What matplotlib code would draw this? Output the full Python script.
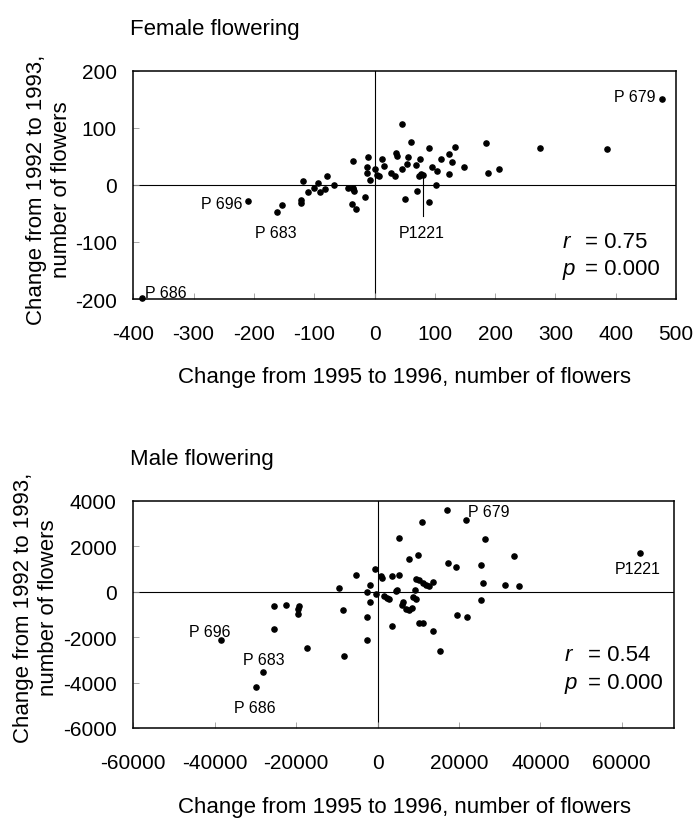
import numpy as np
import matplotlib
matplotlib.use("Agg")
import matplotlib.pyplot as plt

plt.rcParams['font.family'] = ['Liberation Sans', 'DejaVu Sans']
plt.rcParams['axes.unicode_minus'] = False

# Female flowering: change 1995->1996 (x) vs change 1992->1993 (y)
fem_x = [-385, -210, -162, -154, -119, -122, -122, -111, -101, -93, -91, -82, -79, -67,
         -44, -35, -34, -36, -35, -38, -30, -15, -10, -13, -13, -7, 1, 4, 7, 12, 16,
         27, 34, 36, 38, 45, 50, 45, 54, 55, 60, 70, 69, 76, 73, 77, 81, 90, 91, 95,
         102, 103, 110, 123, 124, 128, 133, 149, 185, 188, 207, 275, 386, 477]
fem_y = [-199, -28, -48, -36, 6, -26, -32, -12, -6, 3, -13, -8, 15, -1,
         -6, -5, -10, -8, 42, -34, -42, -22, 48, 31, 20, 9, 27, 18, 15, 45, 33,
         20, 16, 55, 50, 107, -25, 27, 36, 48, 75, -10, 35, 45, 16, 19, 18, 64, -30, 32,
         0, 25, 45, 19, 54, 40, 67, 32, 74, 20, 28, 65, 62, 150]

# Male flowering
male_x = [-38380, -28070, -29860, -25540, -25380, -22520, -19330, -19500, -19650, -17260,
          -9490, -5320, -8520, -8360, -2630, -2630, -1820, -1820, -2470, -510, -340,
          800, 1130, 3670, 5390, 3580, 1700, 2440, 2930, 4570, 4890, 5310,
          5960, 6360, 7020, 7840, 8410, 7840, 9880, 9230, 9470, 10130, 10860,
          8660, 9470, 10210, 11270, 11110, 11930, 12590, 13740, 13560, 15440,
          17000, 17240, 19290, 19450, 21740, 22070, 25420, 25830, 25420, 26490,
          31230, 33600, 34830, 64440]
male_y = [-2149, -3532, -4180, -1663, -633, -589, -633, -750, -1000, -2502,
          177, 751, -809, -2826, -1133, -2119, -441, 309, 0, 986, -88,
          692, 603, 692, 751, -1530, -191, -265, -309, 29, 74, 2340,
          -574, -456, -750, -824, -706, 1428, 1604, 74, 574, 500, 3076,
          -221, -309, -1398, -1398, 397, 280, 250, 427, -1751, -2620,
          3576, 1251, 1089, -1045, 3135, -1118, 1177, 397, -368, 2296,
          280, 1560, 265, 1678]

xlabel = "Change from 1995 to 1996, number of flowers"
ylabel = "Change from 1992 to 1993,\nnumber of flowers"

fig = plt.figure(figsize=(6.95, 8.2), dpi=100)
ax1 = fig.add_axes([0.1918, 0.6341, 0.7809, 0.2785])
ax2 = fig.add_axes([0.1918, 0.1110, 0.7784, 0.2772])

for ax in (ax1, ax2):
    ax.axhline(0, color='black', lw=0.8, zorder=1)
    ax.axvline(0, color='black', lw=0.8, zorder=1)
    ax.tick_params(direction='in', length=4, width=0.6, color='#999999',
                   labelsize=15, top=False, right=False)
    ax.tick_params(axis='x', pad=18)
    ax.tick_params(axis='y', pad=12)
    for s in ax.spines.values():
        s.set_linewidth(1.1)

# top panel
ax1.scatter(fem_x, fem_y, s=14, color='black', zorder=3, clip_on=False)
ax1.set_xlim(-400, 500)
ax1.set_ylim(-200, 200)
ax1.set_xticks(np.arange(-400, 501, 100))
ax1.set_yticks(np.arange(-200, 201, 100))
ax1.text(-381, -189, "P 686", fontsize=11.5, va='center')
ax1.text(-288, -33, "P 696", fontsize=11.5, va='center')
ax1.text(-198, -84, "P 683", fontsize=11.5, va='center')
ax1.text(466, 154, "P 679", fontsize=11.5, va='center', ha='right')
ax1.text(78, -84, "P1221", fontsize=11.5, va='center', ha='center')
ax1.plot([81, 81], [15, -55], color='black', lw=0.8)
ax1.text(312, -100, "r", fontsize=16, style='italic', va='center')
ax1.text(349, -100, "= 0.75", fontsize=16, va='center')
ax1.text(312, -147, "p", fontsize=16, style='italic', va='center')
ax1.text(349, -147, "= 0.000", fontsize=16, va='center')

# bottom panel
ax2.scatter(male_x, male_y, s=14, color='black', zorder=3)
ax2.set_xlim(-60000, 72900)
ax2.set_ylim(-6000, 4000)
ax2.set_xticks(np.arange(-60000, 60001, 20000))
ax2.set_yticks(np.arange(-6000, 4001, 2000))
ax2.text(-46230, -1753, "P 696", fontsize=11.5, va='center')
ax2.text(-32940, -2990, "P 683", fontsize=11.5, va='center')
ax2.text(-35200, -5110, "P 686", fontsize=11.5, va='center')
ax2.text(22280, 3545, "P 679", fontsize=11.5, va='center')
ax2.text(58300, 1030, "P1221", fontsize=11.5, va='center')
ax2.text(46000, -2760, "r", fontsize=16, style='italic', va='center')
ax2.text(51800, -2760, "= 0.54", fontsize=16, va='center')
ax2.text(46000, -3990, "p", fontsize=16, style='italic', va='center')
ax2.text(51800, -3990, "= 0.000", fontsize=16, va='center')

fig.text(130 / 695, 1 - 30 / 820, "Female flowering", fontsize=16, va='center')
fig.text(130 / 695, 1 - 460 / 820, "Male flowering", fontsize=16, va='center')
fig.text(405 / 695, 1 - 378 / 820, xlabel, fontsize=16, ha='center', va='center')
fig.text(405 / 695, 1 - 808 / 820, xlabel, fontsize=16, ha='center', va='center')
fig.text(49 / 695, 1 - 190 / 820, ylabel, fontsize=16, rotation=90,
         ha='center', va='center', multialignment='center')
fig.text(36 / 695, 1 - 608 / 820, ylabel, fontsize=16, rotation=90,
         ha='center', va='center', multialignment='center')

fig.savefig("out.png", dpi=100)
